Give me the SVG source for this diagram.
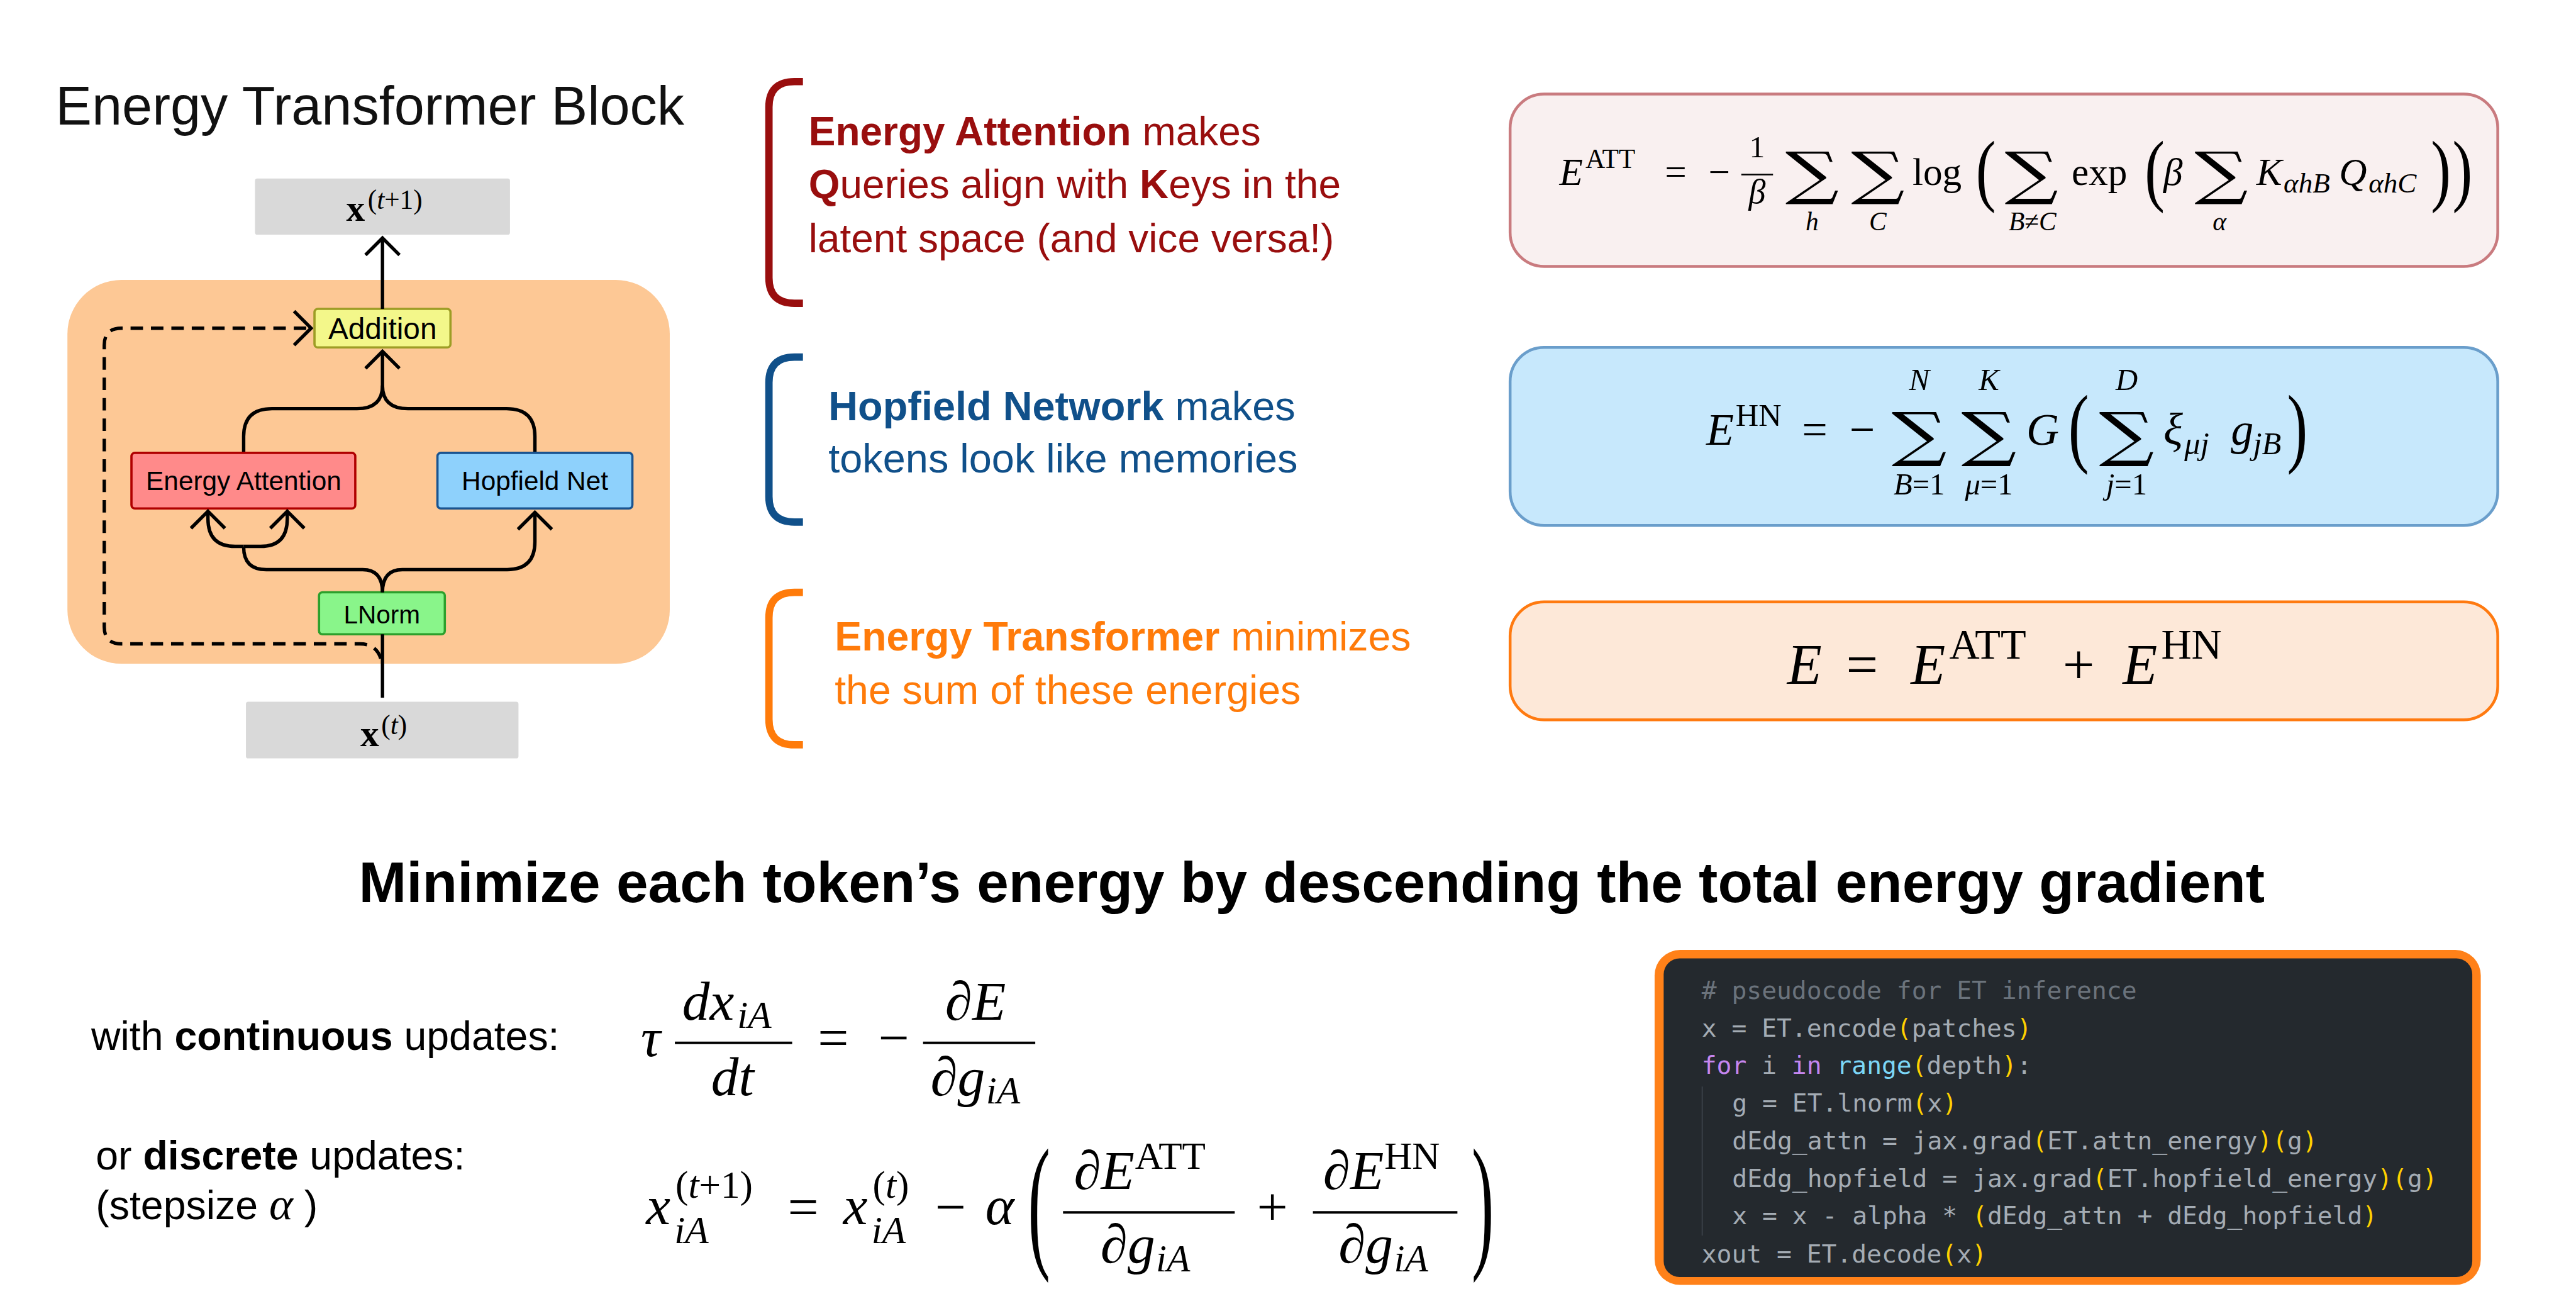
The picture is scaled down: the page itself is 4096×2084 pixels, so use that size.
<svg xmlns="http://www.w3.org/2000/svg" width="4096" height="2084" viewBox="0 0 4096 2084">
<style>
.sans{font-family:"Liberation Sans",Arial,sans-serif}
.serif{font-family:"Liberation Serif","DejaVu Serif",serif}
.it{font-style:italic}
.b{font-weight:bold}
.sum{font-family:"DejaVu Serif",serif}
.mono{font-family:"DejaVu Sans Mono",monospace;font-size:44px;fill:#a4acb4}
.ln{fill:none;stroke:#000;stroke-width:6}
.cm{fill:#6b737c}
.py{fill:#ffd000}
.kw{fill:#c586f0}
.bi{fill:#7cd7f8}
</style>
<defs>
<marker id="chev" markerUnits="userSpaceOnUse" markerWidth="60" markerHeight="80" viewBox="-40 -40 50 80" refX="0" refY="0" orient="auto" overflow="visible">
<path d="M-30,-30 L0,0 L-30,30" fill="none" stroke="#000" stroke-width="6"/>
</marker>
</defs>
<rect x="0" y="0" width="4096" height="2084" fill="#ffffff"/>
<g transform="scale(0.901)">

<text id="title" class="sans" x="98" y="220" font-size="96" fill="#111">Energy Transformer Block</text>

<rect id="block-panel" x="119" y="494" width="1063" height="677" rx="95" fill="#fdc895"/>

<g id="node-x-next">
<rect x="450" y="315" width="450" height="99" rx="4" fill="#d9d9d9"/>
<text class="serif b" x="611" y="390" font-size="66">x</text>
<text class="serif" x="649" y="368" font-size="48">(<tspan class="it">t</tspan>+1)</text>
</g>
<g id="node-x">
<rect x="434" y="1238" width="481" height="100" rx="4" fill="#d9d9d9"/>
<text class="serif b" x="636" y="1316" font-size="66">x</text>
<text class="serif" x="673" y="1295" font-size="48">(<tspan class="it">t</tspan>)</text>
</g>
<g id="node-addition">
<rect x="555" y="545" width="240" height="68" rx="6" fill="#f3f78a" stroke="#9d9d25" stroke-width="4"/>
<text class="sans" x="675" y="598" font-size="53" text-anchor="middle">Addition</text>
</g>
<g id="node-energy-attention">
<rect x="232" y="799" width="395" height="98" rx="6" fill="#ff8a8a" stroke="#b00000" stroke-width="4"/>
<text class="sans" x="430" y="865" font-size="47" text-anchor="middle">Energy Attention</text>
</g>
<g id="node-hopfield-net">
<rect x="772" y="799" width="344" height="98" rx="6" fill="#8ed1fc" stroke="#1a5490" stroke-width="4"/>
<text class="sans" x="944" y="865" font-size="47" text-anchor="middle">Hopfield Net</text>
</g>
<g id="node-lnorm">
<rect x="563" y="1045" width="222" height="74" rx="6" fill="#89f58a" stroke="#2ca02c" stroke-width="4"/>
<text class="sans" x="674" y="1100" font-size="45" text-anchor="middle">LNorm</text>
</g>

<g id="connectors">
<path class="ln" d="M675,1231 V1119"/>
<path class="ln" d="M675,545 V420" marker-end="url(#chev)"/>
<path class="ln" d="M675,1045 Q675,1005 640,1005 H470 Q430,1005 430,965"/>
<path class="ln" d="M675,1045 Q675,1005 710,1005 H895 Q944,1005 944,956 V904" marker-end="url(#chev)"/>
<path class="ln" d="M430,964 H415 Q367,964 367,915 V902" marker-end="url(#chev)"/>
<path class="ln" d="M430,964 H460 Q507,964 507,915 V902" marker-end="url(#chev)"/>
<path class="ln" d="M430,797 V770 Q430,721 480,721 H630 Q675,721 675,680 V620" marker-end="url(#chev)"/>
<path class="ln" d="M944,797 V770 Q944,721 894,721 H720 Q675,721 675,680"/>
<path class="ln" stroke-dasharray="22 14" d="M672,1162 Q664,1136 635,1136 H214 Q184,1136 184,1106 V609 Q184,579 214,579 H549" marker-end="url(#chev)"/>
</g>

<g id="desc-attention">
<path d="M1417,144 H1402 Q1357,144 1357,189 V490 Q1357,535 1402,535 H1417" fill="none" stroke="#990e0e" stroke-width="13"/>
<g class="sans" font-size="71" fill="#990e0e">
<text x="1427" y="256"><tspan class="b">Energy Attention</tspan> makes</text>
<text x="1427" y="350"><tspan class="b">Q</tspan>ueries align with <tspan class="b">K</tspan>eys in the</text>
<text x="1427" y="445">latent space (and vice versa!)</text>
</g>
</g>
<g id="desc-hopfield">
<path d="M1417,630 H1402 Q1357,630 1357,675 V876 Q1357,921 1402,921 H1417" fill="none" stroke="#10508a" stroke-width="13"/>
<g class="sans" font-size="72" fill="#10508a">
<text x="1462" y="741"><tspan class="b">Hopfield Network</tspan> makes</text>
<text x="1462" y="833">tokens look like memories</text>
</g>
</g>
<g id="desc-total">
<path d="M1417,1045 H1402 Q1357,1045 1357,1090 V1269 Q1357,1314 1402,1314 H1417" fill="none" stroke="#ff7b0a" stroke-width="13"/>
<g class="sans" font-size="71.5" fill="#ff7b0a">
<text x="1473" y="1148"><tspan class="b">Energy Transformer</tspan> minimizes</text>
<text x="1473" y="1242">the sum of these energies</text>
</g>
</g>

<g id="eq-att">
<rect x="2665" y="166" width="1743" height="304" rx="60" fill="#f9f0f0" stroke="#c97b7f" stroke-width="5"/>
<g class="serif" fill="#000">
<text class="it" x="2752" y="326" font-size="68">E</text>
<text x="2798" y="296" font-size="48">ATT</text>
<text x="2938" y="326" font-size="68">=</text>
<text x="3015" y="326" font-size="68">−</text>
<text x="3101" y="278" font-size="55" text-anchor="middle">1</text>
<line x1="3073" y1="308" x2="3129" y2="308" stroke="#000" stroke-width="3"/>
<text class="it" x="3101" y="358" font-size="60" text-anchor="middle">β</text>
<text class="sum" transform="translate(3198,341) scale(1.3,1)" font-size="102" text-anchor="middle">∑</text>
<text class="it" x="3198" y="406" font-size="46" text-anchor="middle">h</text>
<text class="sum" transform="translate(3314,341) scale(1.3,1)" font-size="102" text-anchor="middle">∑</text>
<text class="it" x="3314" y="406" font-size="46" text-anchor="middle">C</text>
<text x="3375" y="326" font-size="68">log</text>
<text transform="translate(3487,346) scale(0.75,1)" font-size="141">(</text>
<text class="sum" transform="translate(3585,341) scale(1.3,1)" font-size="102" text-anchor="middle">∑</text>
<text x="3587" y="406" font-size="46" text-anchor="middle"><tspan class="it">B</tspan>≠<tspan class="it">C</tspan></text>
<text x="3656" y="326" font-size="68">exp</text>
<text transform="translate(3785,346) scale(0.75,1)" font-size="141">(</text>
<text class="it" x="3818" y="326" font-size="68">β</text>
<text class="sum" transform="translate(3920,341) scale(1.3,1)" font-size="102" text-anchor="middle">∑</text>
<text class="it" x="3917" y="406" font-size="46" text-anchor="middle">α</text>
<text class="it" x="3982" y="326" font-size="68">K</text>
<text class="it" x="4030" y="340" font-size="50">αhB</text>
<text class="it" x="4128" y="326" font-size="68">Q</text>
<text class="it" x="4180" y="340" font-size="50">αhC</text>
<text transform="translate(4290,346) scale(0.75,1)" font-size="141">)</text>
<text transform="translate(4328,346) scale(0.75,1)" font-size="141">)</text>
</g>
</g>

<g id="eq-hn">
<rect x="2665" y="613" width="1743" height="314" rx="60" fill="#c7e8fc" stroke="#6a9ecb" stroke-width="5"/>
<g class="serif" fill="#000">
<text class="it" x="3011" y="785" font-size="80">E</text>
<text x="3063" y="751" font-size="56">HN</text>
<text x="3180" y="785" font-size="80">=</text>
<text x="3264" y="785" font-size="80">−</text>
<text class="sum" transform="translate(3387,802) scale(1.3,1)" font-size="105" text-anchor="middle">∑</text>
<text class="it" x="3387" y="688" font-size="54" text-anchor="middle">N</text>
<text x="3387" y="872" font-size="54" text-anchor="middle"><tspan class="it">B</tspan>=1</text>
<text class="sum" transform="translate(3510,802) scale(1.3,1)" font-size="105" text-anchor="middle">∑</text>
<text class="it" x="3510" y="688" font-size="54" text-anchor="middle">K</text>
<text x="3510" y="872" font-size="54" text-anchor="middle"><tspan class="it">μ</tspan>=1</text>
<text class="it" x="3576" y="785" font-size="80">G</text>
<text transform="translate(3650,805) scale(0.7,1)" font-size="156">(</text>
<text class="sum" transform="translate(3753,802) scale(1.3,1)" font-size="105" text-anchor="middle">∑</text>
<text class="it" x="3753" y="688" font-size="54" text-anchor="middle">D</text>
<text x="3753" y="872" font-size="54" text-anchor="middle"><tspan class="it">j</tspan>=1</text>
<text class="it" x="3818" y="785" font-size="80">ξ</text>
<text class="it" x="3855" y="801" font-size="56">μj</text>
<text class="it" x="3937" y="785" font-size="80">g</text>
<text class="it" x="3976" y="801" font-size="56">jB</text>
<text transform="translate(4036,805) scale(0.7,1)" font-size="156">)</text>
</g>
</g>

<g id="eq-total">
<rect x="2665" y="1062" width="1743" height="208" rx="60" fill="#fde8d8" stroke="#ff7a10" stroke-width="5"/>
<g class="serif" fill="#000">
<text class="it" x="3154" y="1206" font-size="100">E</text>
<text x="3258" y="1206" font-size="100">=</text>
<text class="it" x="3372" y="1206" font-size="100">E</text>
<text x="3440" y="1162" font-size="74">ATT</text>
<text x="3640" y="1206" font-size="100">+</text>
<text class="it" x="3746" y="1206" font-size="100">E</text>
<text x="3814" y="1162" font-size="74">HN</text>
</g>
</g>

<text id="heading" class="sans b" x="2315" y="1592" font-size="101" text-anchor="middle">Minimize each token’s energy by descending the total energy gradient</text>

<g id="update-labels" class="sans" font-size="71.5" fill="#000">
<text x="161" y="1852">with <tspan class="b">continuous</tspan> updates:</text>
<text x="169" y="2063">or <tspan class="b">discrete</tspan> updates:</text>
<text x="169" y="2151">(stepsize <tspan class="serif it" font-size="80">α</tspan> )</text>
</g>

<g id="eq-continuous" class="serif" fill="#000">
<text class="it" x="1131" y="1863" font-size="97">τ</text>
<text class="it" x="1204" y="1799" font-size="97">dx</text>
<text class="it" x="1301" y="1814" font-size="68">iA</text>
<line x1="1191" y1="1840" x2="1398" y2="1840" stroke="#000" stroke-width="4.5"/>
<text class="it" x="1255" y="1932" font-size="97">dt</text>
<text x="1443" y="1863" font-size="97">=</text>
<text x="1550" y="1863" font-size="97">−</text>
<line x1="1629" y1="1840" x2="1827" y2="1840" stroke="#000" stroke-width="4.5"/>
<text class="it" x="1668" y="1799" font-size="97">∂E</text>
<text class="it" x="1642" y="1932" font-size="97">∂g</text>
<text class="it" x="1740" y="1947" font-size="68">iA</text>
</g>

<g id="eq-discrete" class="serif" fill="#000">
<text class="it" x="1140" y="2160" font-size="97">x</text>
<text x="1192" y="2113" font-size="68">(<tspan class="it">t</tspan>+1)</text>
<text class="it" x="1190" y="2193" font-size="68">iA</text>
<text x="1390" y="2162" font-size="97">=</text>
<text class="it" x="1488" y="2160" font-size="97">x</text>
<text x="1540" y="2113" font-size="68">(<tspan class="it">t</tspan>)</text>
<text class="it" x="1538" y="2193" font-size="68">iA</text>
<text x="1650" y="2162" font-size="97">−</text>
<text class="it" x="1739" y="2160" font-size="97">α</text>
<text transform="translate(1814,2207) scale(0.45,1)" font-size="262">(</text>
<line x1="1876" y1="2139" x2="2179" y2="2139" stroke="#000" stroke-width="4.5"/>
<text class="it" x="1895" y="2098" font-size="97">∂E</text>
<text x="2003" y="2062" font-size="68">ATT</text>
<text class="it" x="1942" y="2228" font-size="97">∂g</text>
<text class="it" x="2040" y="2243" font-size="68">iA</text>
<text x="2218" y="2162" font-size="97">+</text>
<line x1="2317" y1="2139" x2="2572" y2="2139" stroke="#000" stroke-width="4.5"/>
<text class="it" x="2335" y="2098" font-size="97">∂E</text>
<text x="2443" y="2062" font-size="68">HN</text>
<text class="it" x="2362" y="2228" font-size="97">∂g</text>
<text class="it" x="2460" y="2243" font-size="68">iA</text>
<text transform="translate(2597,2207) scale(0.45,1)" font-size="262">)</text>
</g>

<g id="code">
<rect x="2920" y="1676" width="1458" height="591" rx="45" fill="#ff8119"/>
<rect x="2936" y="1691" width="1427" height="562" rx="28" fill="#24292e"/>
<line x1="3004" y1="1917" x2="3004" y2="2180" stroke="#3c434a" stroke-width="2"/>
<g class="mono" xml:space="preserve">
<text x="3003" y="1762" class="cm"># pseudocode for ET inference</text>
<text x="3003" y="1829">x = ET.encode<tspan class="py">(</tspan>patches<tspan class="py">)</tspan></text>
<text x="3003" y="1895"><tspan class="kw">for</tspan> i <tspan class="kw">in</tspan> <tspan class="bi">range</tspan><tspan class="py">(</tspan>depth<tspan class="py">)</tspan>:</text>
<text x="3057" y="1961">g = ET.lnorm<tspan class="py">(</tspan>x<tspan class="py">)</tspan></text>
<text x="3057" y="2028">dEdg_attn = jax.grad<tspan class="py">(</tspan>ET.attn_energy<tspan class="py">)(</tspan>g<tspan class="py">)</tspan></text>
<text x="3057" y="2094">dEdg_hopfield = jax.grad<tspan class="py">(</tspan>ET.hopfield_energy<tspan class="py">)(</tspan>g<tspan class="py">)</tspan></text>
<text x="3057" y="2160">x = x - alpha * <tspan class="py">(</tspan>dEdg_attn + dEdg_hopfield<tspan class="py">)</tspan></text>
<text x="3003" y="2228">xout = ET.decode<tspan class="py">(</tspan>x<tspan class="py">)</tspan></text>
</g>
</g>

</g>
</svg>
